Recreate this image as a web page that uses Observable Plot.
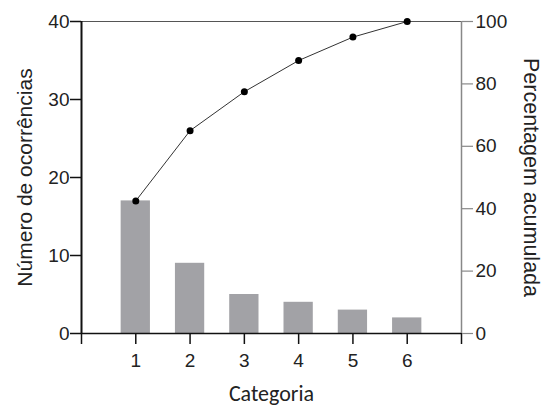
<!DOCTYPE html>
<html>
<head>
<meta charset="utf-8">
<script src="https://cdn.jsdelivr.net/npm/d3@7"></script>
<script src="https://cdn.jsdelivr.net/npm/@observablehq/plot@0.6"></script>
<style>
  html, body { margin: 0; padding: 0; background: #fff; }
</style>
</head>
<body>
<div id="chart"></div>
<script>
const categories = [1, 2, 3, 4, 5, 6];
const counts = [17, 9, 5, 4, 3, 2];
const cumulativePct = [42.5, 65, 77.5, 87.5, 95, 100];
const leftTicks = [0, 10, 20, 30, 40];
const rightTicks = [0, 20, 40, 60, 80, 100];
const xTicks = [0, 1, 2, 3, 4, 5, 6, 7];

const yMax = 40;
const pctMax = 100;
const toLeft = p => p * yMax / pctMax;
const sans = "'Liberation Sans', Arial, sans-serif";
const calibri = "Carlito, Calibri, Lato, sans-serif";

const data = categories.map((c, i) => ({cat: c, count: counts[i], pct: cumulativePct[i]}));

const chart = Plot.plot({
  width: 542,
  height: 406,
  marginLeft: 81,
  marginRight: 81,
  marginTop: 21,
  marginBottom: 73,
  style: {fontFamily: sans, fontSize: "19px", color: "#222", background: "#fff"},
  x: {domain: [0, 7]},
  y: {domain: [0, yMax]},
  marks: [
    Plot.rectY(data, {x1: d => d.cat - 0.5, x2: d => d.cat + 0.5, y: "count", insetLeft: 12.5, insetRight: 12.5, fill: "#a2a2a6"}),
    Plot.ruleY([yMax], {stroke: "#555", strokeWidth: 1.2}),
    Plot.ruleX([7], {stroke: "#888", strokeWidth: 1.5}),
    Plot.ruleY([0], {stroke: "#111", strokeWidth: 1.5}),
    Plot.ruleX([0], {stroke: "#111", strokeWidth: 2}),
    Plot.line(data, {x: "cat", y: d => toLeft(d.pct), stroke: "#333", strokeWidth: 1}),
    Plot.dot(data, {x: "cat", y: d => toLeft(d.pct), r: 3.5, fill: "#000", stroke: "none"}),
    Plot.axisX({ticks: xTicks, tickFormat: d => (d >= 1 && d <= 6) ? String(d) : "", tickSize: 11, tickPadding: 9, label: null, fontSize: 19, fontFamily: sans, stroke: "#111", strokeWidth: 1.5}),
    Plot.axisY({anchor: "left", ticks: leftTicks, tickSize: 11, tickPadding: 1, label: null, fontSize: 19, fontFamily: sans, stroke: "#111", strokeWidth: 1.5}),
    Plot.axisY({anchor: "right", ticks: rightTicks.map(toLeft), tickFormat: d => String(Math.round(d * pctMax / yMax)), tickSize: 11, tickPadding: 3, label: null, fontSize: 19, fontFamily: sans, stroke: "#888", strokeWidth: 1.2}),
    Plot.text(["Número de ocorrências"], {frameAnchor: "left", dx: -56, rotate: -90, textAnchor: "middle", fontSize: 21, fontFamily: sans, fill: "#222"}),
    Plot.text(["Percentagem acumulada"], {frameAnchor: "right", dx: 69, rotate: 90, textAnchor: "middle", fontSize: 21.5, fontFamily: sans, fill: "#222"}),
    Plot.text(["Categoria"], {frameAnchor: "bottom", dy: 67, fontSize: 22, fontFamily: calibri, fill: "#222"})
  ]
});
document.getElementById("chart").appendChild(chart);
</script>
</body>
</html>
